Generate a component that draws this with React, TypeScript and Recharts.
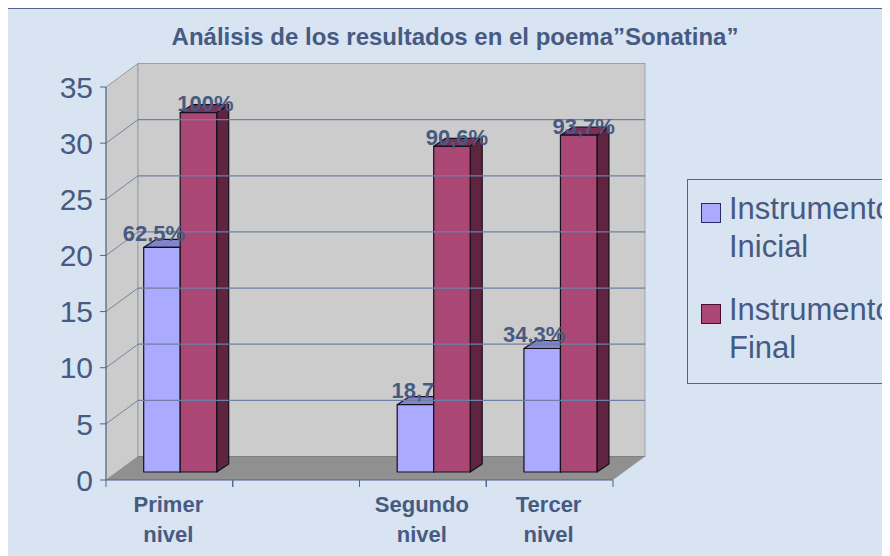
import React from 'react';
import { BarChart, Bar, XAxis, YAxis, Legend, LabelList, ReferenceArea, ReferenceLine } from 'recharts';

const CATEGORIES = ['Primer nivel', '', 'Segundo nivel', 'Tercer nivel'];
const INICIAL = [20, null, 6, 11];
const FINAL = [32, null, 29, 30];
const INICIAL_LABELS = ['62,5%', '', '18,7', '34,3%'];
const FINAL_LABELS = ['100%', '', '90,6%', '93,7%'];
const Y_TICKS = [0, 5, 10, 15, 20, 25, 30, 35];
const GRID_VALUES = [5, 10, 15, 20, 25, 30];

const data = CATEGORIES.map((name, i) => ({
    name,
    inicial: INICIAL[i],
    final: FINAL[i],
    inicialLabel: INICIAL_LABELS[i],
    finalLabel: FINAL_LABELS[i],
}));

const FONT = '"Liberation Sans", Arial, sans-serif';
const TEXT = '#475a82';
const AXIS = '#4f6490';
const BG = '#d8e4f2';

// depth of the fake 3D box, and where the bars sit inside it
const DEPTH_X = 32;
const DEPTH_Y = 23.5;
const BAR_SHIFT_X = 10.7;
const BAR_SHIFT_Y = 8;
const BAR_DEPTH_X = 12;
const BAR_DEPTH_Y = 8;

// small per-label nudges, the original placed these by hand
const LABEL_NUDGE: Record<string, number> = { '18,7': 5.5, '90,6%': -2, '93,7%': -2 };

function Walls({ x, y, width, height }: any) {
    const bottom = y + height;
    const right = x + width;
    return (
        <g>
            <polygon
                points={`${x},${y} ${x + DEPTH_X},${y - DEPTH_Y} ${x + DEPTH_X},${bottom - DEPTH_Y} ${x},${bottom}`}
                fill="#cccccc" stroke="#9a9a9a"
            />
            <rect x={x + DEPTH_X} y={y - DEPTH_Y} width={width} height={height} fill="#cccccc" stroke="#9aa0ac" />
            <polygon
                points={`${x},${bottom} ${x + DEPTH_X},${bottom - DEPTH_Y} ${right + DEPTH_X},${bottom - DEPTH_Y} ${right},${bottom}`}
                fill="#909090"
            />
            <line x1={x + DEPTH_X} y1={bottom - DEPTH_Y} x2={right + DEPTH_X} y2={bottom - DEPTH_Y} stroke="#808080" />
        </g>
    );
}

function GridLine({ x1, y1, x2 }: any) {
    return (
        <g>
            <line x1={x1} y1={y1} x2={x1 + DEPTH_X} y2={y1 - DEPTH_Y} stroke="#76839f" />
            <line x1={x1 + DEPTH_X} y1={y1 - DEPTH_Y} x2={x2 + DEPTH_X} y2={y1 - DEPTH_Y} stroke="#6f7fa3" strokeWidth={1.3} />
        </g>
    );
}

function makeBox(front: string, top: string, side: string) {
    return function Box({ x, y, width, height }: any) {
        if (!height) return null;
        const l = x + BAR_SHIFT_X;
        const t = y - BAR_SHIFT_Y;
        const r = l + width;
        const b = t + height;
        return (
            <g stroke="#16101c" strokeWidth={1.2} strokeLinejoin="round">
                <polygon points={`${l},${t} ${l + BAR_DEPTH_X},${t - BAR_DEPTH_Y} ${r + BAR_DEPTH_X},${t - BAR_DEPTH_Y} ${r},${t}`} fill={top} />
                <polygon points={`${r},${t} ${r + BAR_DEPTH_X},${t - BAR_DEPTH_Y} ${r + BAR_DEPTH_X},${b - BAR_DEPTH_Y} ${r},${b}`} fill={side} />
                <rect x={l} y={t} width={width} height={height} fill={front} />
            </g>
        );
    };
}

const BlueBox = makeBox('#aaaaff', '#8085c9', '#7070b0');
const RedBox = makeBox('#aa4774', '#7c2f57', '#5f2440');

function barLabel(dx: number, dy: number) {
    return function BarLabel({ x, y, width, value }: any) {
        if (!value) return null;
        return (
            <text
                x={x + width / 2 + BAR_SHIFT_X + dx + (LABEL_NUDGE[value] ?? 0)} y={y + dy}
                textAnchor="middle" fontFamily={FONT} fontWeight="bold" fontSize={22} fill={TEXT}
            >
                {value}
            </text>
        );
    };
}

function CategoryTick({ x, y, width, payload }: any) {
    const band = width / CATEGORIES.length;
    const words = String(payload.value).split(' ').filter(Boolean);
    return (
        <g>
            <line x1={x - band / 2} y1={y} x2={x - band / 2} y2={y + 7} stroke={AXIS} />
            <line x1={x + band / 2} y1={y} x2={x + band / 2} y2={y + 7} stroke={AXIS} />
            {words.map((w, i) => (
                <text key={w} x={x - 1} y={y + 32 + i * 30} textAnchor="middle" fontFamily={FONT} fontWeight="bold" fontSize={22} fill={TEXT}>
                    {w}
                </text>
            ))}
        </g>
    );
}

function LegendBox({ payload }: any) {
    const edges: Record<string, string> = { inicial: '#2a2a6a', final: '#4a0f2c' };
    return (
        <div style={{ boxSizing: 'border-box', width: 260, height: 205, border: `1px solid ${AXIS}`, paddingTop: 6, fontFamily: FONT, color: TEXT }}>
            {(payload ?? []).map((p: any) => (
                <div key={p.dataKey} style={{
                    position: 'relative', boxSizing: 'border-box', height: 101, paddingLeft: 41, paddingTop: 4,
                    fontSize: 31, lineHeight: '38px', width: 212,
                }}>
                    <span style={{
                        position: 'absolute', left: 13, top: 17, width: 18, height: 18,
                        background: p.color, border: `1px solid ${edges[p.dataKey]}`,
                    }} />
                    {p.value}
                </div>
            ))}
        </div>
    );
}

export default function App() {
    return (
        <div style={{
            position: 'relative', width: 903, height: 548, marginLeft: -1, overflow: 'hidden',
            background: BG, boxShadow: `inset 1px 1px 0 ${AXIS}`,
        }}>
            <div style={{
                position: 'absolute', left: 148, top: 16, width: 600, textAlign: 'center', whiteSpace: 'nowrap',
                fontFamily: FONT, fontWeight: 'bold', fontSize: 24, lineHeight: '26px', color: TEXT,
            }}>
                Análisis de los resultados en el poema”Sonatina”
            </div>
            <BarChart
                width={903} height={548} data={data} barSize={36.5} barGap={0}
                margin={{ top: 79, right: 297, bottom: 0, left: 0 }}
                style={{ position: 'absolute', left: 0, top: 0 }}
            >
                <ReferenceArea y1={0} y2={35} shape={Walls} ifOverflow="visible" stroke="none" />
                {GRID_VALUES.map((v) => (
                    <ReferenceLine key={v} y={v} shape={GridLine} ifOverflow="visible" />
                ))}
                <XAxis
                    dataKey="name" interval={0} height={76} tickLine={false} tickSize={0} tickMargin={0}
                    axisLine={{ stroke: AXIS }} tick={CategoryTick}
                />
                <YAxis
                    width={99} domain={[0, 35]} ticks={Y_TICKS} interval={0} tickSize={6} tickMargin={7}
                    axisLine={{ stroke: AXIS }} tickLine={{ stroke: AXIS }}
                    tick={{ fill: TEXT, fontSize: 30, fontFamily: FONT }}
                />
                <Legend
                    layout="horizontal" verticalAlign="middle" align="center" content={LegendBox} itemSorter={null}
                    wrapperStyle={{ left: 680, top: 171, width: 260, height: 205 }}
                />
                <Bar dataKey="inicial" name="Instrumento Inicial" fill="#aaaaff" shape={BlueBox} isAnimationActive={false}>
                    <LabelList dataKey="inicialLabel" content={barLabel(-8, -14.5)} />
                </Bar>
                <Bar dataKey="final" name="Instrumento Final" fill="#aa4774" shape={RedBox} isAnimationActive={false}>
                    <LabelList dataKey="finalLabel" content={barLabel(7, -9.5)} />
                </Bar>
            </BarChart>
        </div>
    );
}
